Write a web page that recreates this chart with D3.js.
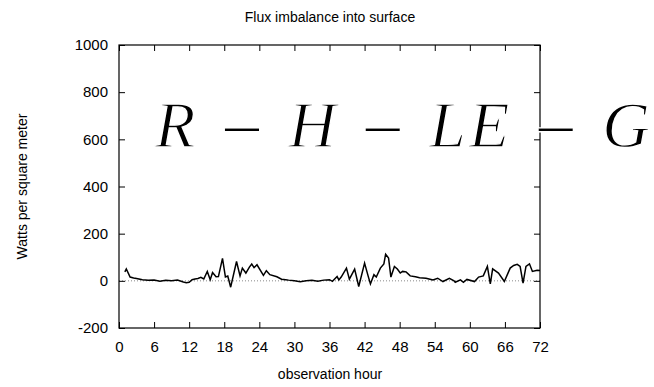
<!DOCTYPE html>
<html>
<head>
<meta charset="utf-8">
<script src="https://cdn.jsdelivr.net/npm/d3@7"></script>
<style>
  body { margin: 0; background: #fff; }
  svg { display: block; }
  text { font-family: "Liberation Sans", Arial, sans-serif; fill: #000; }
</style>
</head>
<body>
<svg id="chart" width="654" height="387"></svg>
<script>
// observation hour (irregular)
const hours = [1, 1.25, 1.9, 2.5, 3, 4, 5, 6, 7, 8, 9, 10, 11, 11.5, 12, 12.5, 13, 13.5, 14, 14.5,
  15.1, 15.6, 16, 16.6, 17, 17.7, 18.2, 18.6, 19.1, 20.1, 20.7, 21.1, 21.7, 22.3, 22.7, 23.1, 23.6,
  24.7, 25.2, 25.8, 27, 27.8, 28.5, 29, 30, 31, 32, 33, 34, 35, 36, 36.5, 37.3, 37.6, 38, 38.9, 39.4,
  40.3, 41, 42, 42.6, 43, 43.6, 44, 44.7, 45.3, 45.6, 46.1, 46.5, 47.1, 47.6, 48.1, 48.5, 49.1, 49.8,
  50.7, 51.4, 52.5, 53.7, 54.5, 55.4, 56.5, 57.3, 57.5, 58.4, 58.9, 59.5, 60.8, 61.5, 62.3, 63, 63.5,
  63.9, 64.9, 65.9, 66.9, 67.5, 68.1, 68.6, 69.1, 69.6, 70.2, 70.7, 71.5, 72]
// flux imbalance, W/m^2
const flux = [38, 50, 16, 12, 10, 5, 2, 3, -2, 2, 0, 3, -5, -8, -6, 5, 8, 10, 15, 8,
  40, 5, 35, 17, 18, 95, 16, 20, -27, 82, 21, 54, 33, 58, 71, 56, 68,
  23, 43, 26, 17, 7, 5, 3, 0, -4, 0, 2, -2, 3, 5, -2, 18, 4, 16, 54, 7,
  50, -24, 75, 21, -13, 26, 16, 54, 72, 113, 97, 16, 61, 50, 33, 40, 38, 21,
  17, 13, 11, 4, 11, -3, 11, 0, -6, 4, -6, 6, -3, 16, 21, 61, -13,
  51, 33, -3, 54, 65, 70, 61, -10, 61, 72, 40, 45, 44]
const xTicks = d3.range(0, 73, 6)
const yTicks = d3.range(-200, 1001, 200)
const formulaParts = ['R', 'H', 'LE', 'G']

const margin = {top: 45, right: 114, bottom: 59, left: 119}
const W = 654, H = 387
const width = W - margin.left - margin.right
const height = H - margin.top - margin.bottom

const svg = d3.select('#chart')
const g = svg.append('g').attr('transform', 'translate(' + margin.left + ',' + margin.top + ')')

const x = d3.scaleLinear().domain([0, 72]).range([0, width])
const y = d3.scaleLinear().domain([-200, 1000]).range([height, 0])

// zero line
g.append('line')
  .attr('x1', 0).attr('x2', width)
  .attr('y1', y(0)).attr('y2', y(0))
  .attr('stroke', '#888').attr('stroke-width', 1)
  .attr('stroke-dasharray', '1,2')

// the series
const line = d3.line().x((d, i) => x(hours[i])).y(d => y(d))
g.append('path')
  .datum(flux)
  .attr('fill', 'none')
  .attr('stroke', '#000')
  .attr('stroke-width', 1.5)
  .attr('d', line)

// axes, gnuplot style: inward ticks mirrored on all sides
const tick = 6
const plain = d => String(d)
g.append('g').attr('transform', 'translate(0,' + height + ')')
  .call(d3.axisBottom(x).tickValues(xTicks).tickSizeInner(-tick).tickSizeOuter(0).tickPadding(13).tickFormat(plain))
g.append('g')
  .call(d3.axisTop(x).tickValues(xTicks).tickSizeInner(-tick).tickSizeOuter(0).tickFormat(''))
g.append('g')
  .call(d3.axisLeft(y).tickValues(yTicks).tickSizeInner(-tick).tickSizeOuter(0).tickPadding(11).tickFormat(plain))
g.append('g').attr('transform', 'translate(' + width + ',0)')
  .call(d3.axisRight(y).tickValues(yTicks).tickSizeInner(-tick).tickSizeOuter(0).tickFormat(''))

g.selectAll('.domain').remove()
g.selectAll('.tick line').attr('stroke', '#000')
g.selectAll('.tick text').style('font-size', '15px').style('font-family', '"Liberation Sans", Arial, sans-serif')

g.append('rect')
  .attr('width', width).attr('height', height)
  .attr('fill', 'none').attr('stroke', '#000').attr('stroke-width', 1.2)

// titles
svg.append('text')
  .attr('x', 330).attr('y', 22)
  .attr('text-anchor', 'middle')
  .style('font-size', '14px')
  .text('Flux imbalance into surface')

svg.append('text')
  .attr('x', 330).attr('y', 379)
  .attr('text-anchor', 'middle')
  .style('font-size', '14px')
  .text('observation hour')

svg.append('text')
  .attr('transform', 'translate(27,' + (margin.top + height / 2) + ') rotate(-90)')
  .attr('text-anchor', 'middle')
  .style('font-size', '14px')
  .text('Watts per square meter')

// the big formula label: italic letters, long upright minus signs
// a thin white stroke on top thins the glyphs toward the TeX look
const formula = svg.append('text')
  .attr('x', 155).attr('y', 147)
  .style('font-family', '"Liberation Serif", serif')
  .style('font-size', '66px')
  .attr('stroke', '#fff')
  .attr('stroke-width', 1.3)
  .attr('textLength', 495)
  .attr('lengthAdjust', 'spacing')
formulaParts.forEach((p, i) => {
  const letter = formula.append('tspan').style('font-style', 'italic').text(p)
  if (i > 0) letter.attr('dy', -8)
  if (i < formulaParts.length - 1) {
    formula.append('tspan').attr('dy', 8)
      .style('font-style', 'normal').style('font-size', '76px')
      .text(' \u2212 ')
  }
})
</script>
</body>
</html>
